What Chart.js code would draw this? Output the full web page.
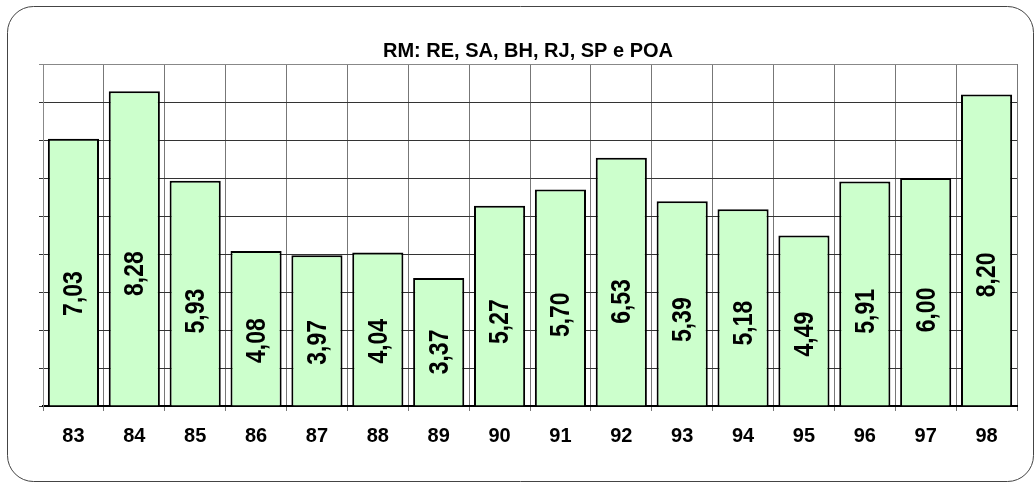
<!DOCTYPE html>
<html>
<head>
<meta charset="utf-8">
<script src="https://cdn.jsdelivr.net/npm/chart.js@4"></script>
<style>
  html, body { margin: 0; padding: 0; background: #fff; }
  #wrap { width: 1034px; height: 483px; }
</style>
</head>
<body>
<div id="wrap"><canvas id="bar-chart" width="1034" height="483"></canvas></div>
<script>
const years = ["83", "84", "85", "86", "87", "88", "89", "90", "91", "92", "93", "94", "95", "96", "97", "98"];
const rates = [7.03, 8.28, 5.93, 4.08, 3.97, 4.04, 3.37, 5.27, 5.70, 6.53, 5.39, 5.18, 4.49, 5.91, 6.00, 8.20];
const title = "RM: RE, SA, BH, RJ, SP e POA";

const fontFamily = "Arial, 'Liberation Sans', sans-serif";

// rounded frame around the whole chart
const frame = {
    id: "frame",
    beforeDraw(chart) {
        const c = chart.ctx;
        const x = 7.5, y = 6.5, w = chart.width - 8, h = chart.height - 8, r = 26;
        c.save();
        c.strokeStyle = "#444";
        c.lineWidth = 1;
        c.beginPath();
        c.moveTo(x + r, y);
        c.lineTo(x + w - r, y);
        c.arcTo(x + w, y, x + w, y + r, r);
        c.lineTo(x + w, y + h - r);
        c.arcTo(x + w, y + h, x + w - r, y + h, r);
        c.lineTo(x + r, y + h);
        c.arcTo(x, y + h, x, y + h - r, r);
        c.lineTo(x, y + r);
        c.arcTo(x, y, x + r, y, r);
        c.closePath();
        c.stroke();
        c.restore();
    },
};

// vertical value labels inside the bars, a bit below the middle
const barLabels = {
    id: "barLabels",
    afterDatasetsDraw(chart) {
        const c = chart.ctx;
        const meta = chart.getDatasetMeta(0);
        c.save();
        c.font = "bold 23px " + fontFamily;
        c.fillStyle = "#000";
        c.textAlign = "center";
        c.textBaseline = "middle";
        meta.data.forEach((bar, i) => {
            const cy = bar.base + (bar.y - bar.base) * 0.42;
            c.save();
            c.translate(bar.x, cy);
            c.rotate(-Math.PI / 2);
            c.scale(1, 1.2);
            c.fillText(rates[i].toFixed(2).replace(".", ","), 0, 1);
            c.restore();
        });
        c.restore();
    },
};

new Chart(document.getElementById("bar-chart"), {
    type: "bar",
    data: {
        labels: years,
        datasets: [
            {
                data: rates,
                backgroundColor: "#ccffcc",
                borderColor: "#000",
                borderWidth: 2,
                barPercentage: 0.84,
                categoryPercentage: 1,
            },
        ],
    },
    options: {
        responsive: false,
        animation: false,
        layout: { padding: { left: 39, right: 17, top: 39, bottom: 22 } },
        plugins: {
            legend: { display: false },
            tooltip: { enabled: false },
            title: {
                display: true,
                text: title,
                color: "#000",
                font: { family: fontFamily, size: 20, weight: "bold" },
                padding: { top: 0, bottom: 1 },
            },
        },
        scales: {
            x: {
                grid: {
                    offset: true,
                    color: "#777",
                    lineWidth: 1,
                    tickLength: 5,
                },
                border: { color: "#000", width: 2 },
                ticks: {
                    color: "#000",
                    padding: 13,
                    font: { family: fontFamily, size: 20, weight: "bold" },
                },
            },
            y: {
                min: 0,
                max: 9,
                grid: {
                    color: (ctx) => (ctx.tick && ctx.tick.value === 9 ? "#888" : "#333"),
                    lineWidth: 1,
                    tickLength: 4,
                },
                border: { color: "#888", width: 1 },
                ticks: { stepSize: 1, display: false },
            },
        },
    },
    plugins: [frame, barLabels],
});
</script>
</body>
</html>
